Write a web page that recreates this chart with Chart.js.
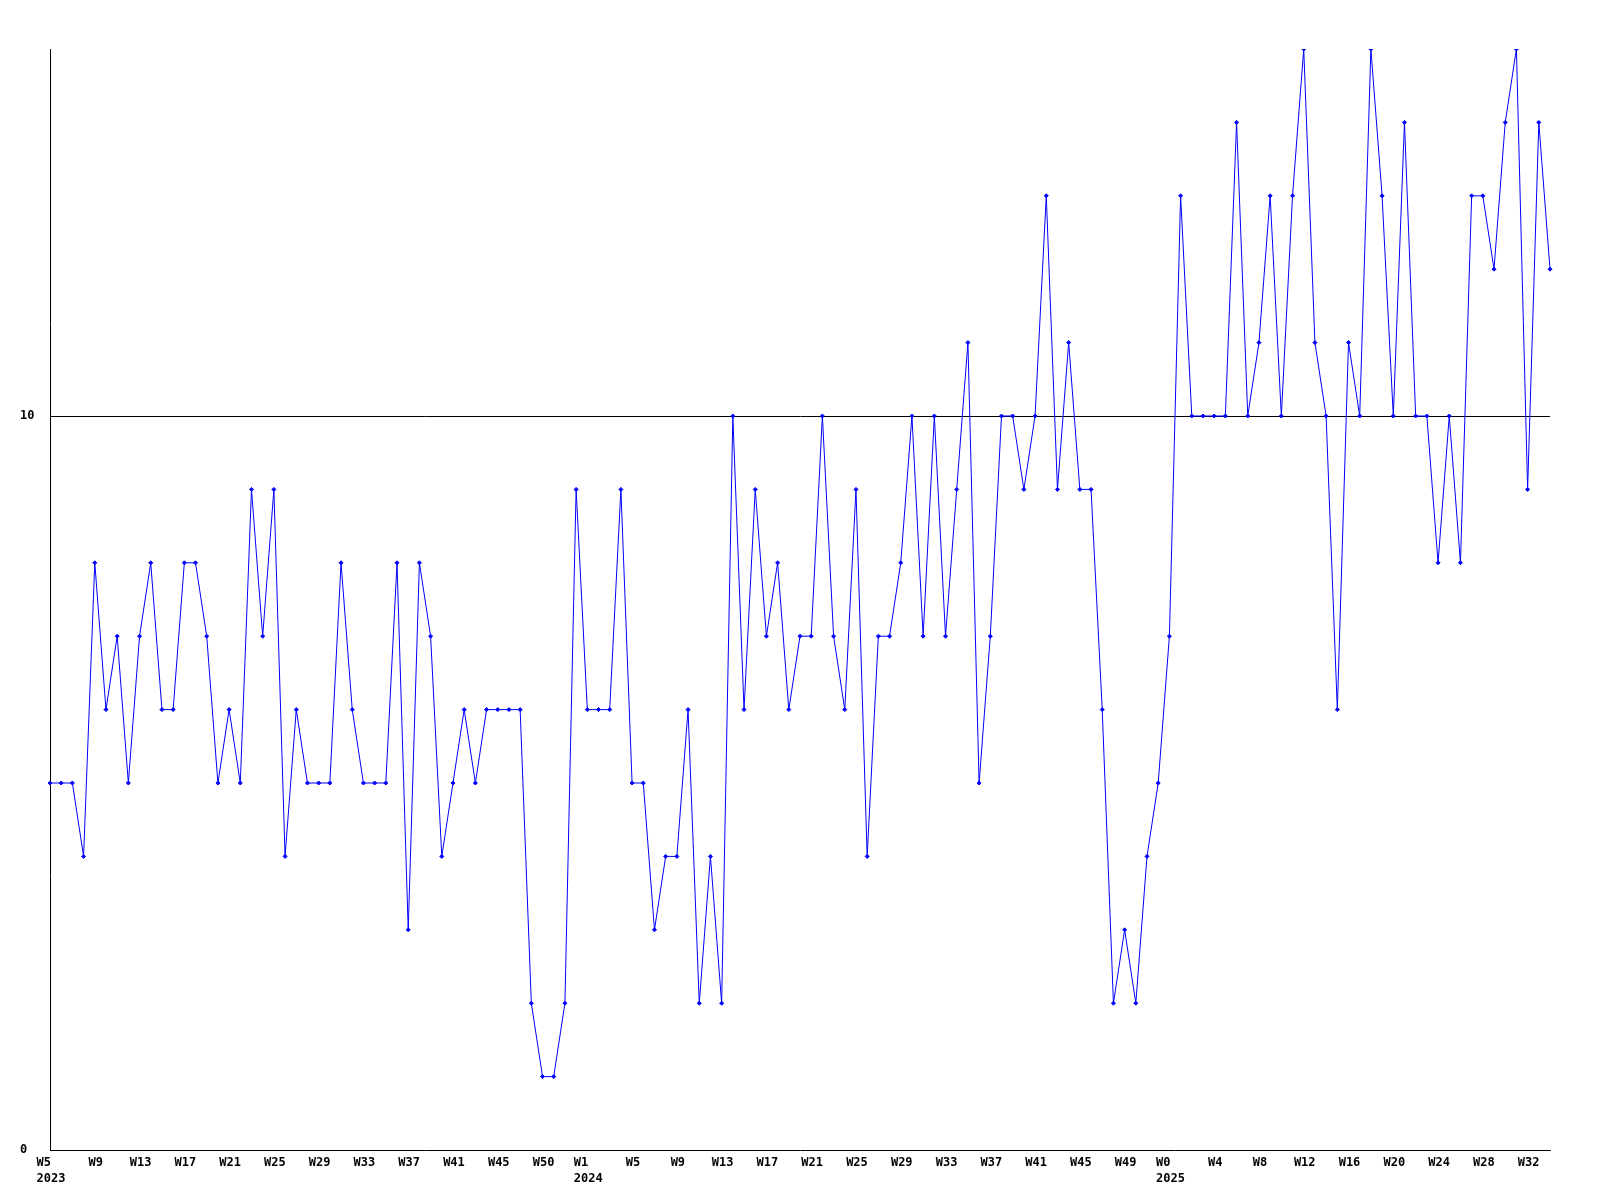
<!DOCTYPE html>
<html>
<head>
<meta charset="utf-8">
<script src="https://cdn.jsdelivr.net/npm/chart.js@4.4.1/dist/chart.umd.min.js"></script>
<style>
  html, body { margin: 0; padding: 0; background: #fff; }
  canvas { display: block; }
</style>
</head>
<body>
<canvas id="weekChart" width="1600" height="1200"></canvas>
<script>
// one label every 4 weeks, as printed under the axis
const tickLabels = [
  "W5", "W9", "W13", "W17", "W21", "W25", "W29", "W33", "W37", "W41", "W45", "W50",
  "W1", "W5", "W9", "W13", "W17", "W21", "W25", "W29", "W33", "W37", "W41", "W45", "W49",
  "W0", "W4", "W8", "W12", "W16", "W20", "W24", "W28", "W32"
];
// year shown under the first tick label of each year (index into tickLabels)
const yearAt = { 0: "2023", 12: "2024", 25: "2025" };
const tickEvery = 4;

const weeklyValues = [
  5, 5, 5, 4, 8, 6, 7, 5, 7, 8, 6, 6, 8, 8, 7, 5, 6, 5, 9, 7,
  9, 4, 6, 5, 5, 5, 8, 6, 5, 5, 5, 8, 3, 8, 7, 4, 5, 6, 5, 6,
  6, 6, 6, 2, 1, 1, 2, 9, 6, 6, 6, 9, 5, 5, 3, 4, 4, 6, 2, 4,
  2, 10, 6, 9, 7, 8, 6, 7, 7, 10, 7, 6, 9, 4, 7, 7, 8, 10, 7, 10,
  7, 9, 11, 5, 7, 10, 10, 9, 10, 13, 9, 11, 9, 9, 6, 2, 3, 2, 4, 5,
  7, 13, 10, 10, 10, 10, 14, 10, 11, 13, 10, 13, 15, 11, 10, 6, 11, 10, 15, 13,
  10, 14, 10, 10, 8, 10, 8, 13, 13, 12, 14, 15, 9, 14, 12
];
const yTicks = [0, 10];
const yMax = 15;

const labels = weeklyValues.map((v, i) => {
  if (i % tickEvery !== 0) return "";
  const k = i / tickEvery;
  const w = tickLabels[k];
  if (w === undefined) return "";
  const y = yearAt[k];
  // pad week so both lines start at the same x (monospace font)
  return y ? [w.padEnd(y.length, " "), y] : w;
});

Chart.defaults.font.family = "'DejaVu Sans Mono', monospace";
Chart.defaults.font.size = 12;
Chart.defaults.font.weight = "bold";
Chart.defaults.color = "#000";

new Chart(document.getElementById("weekChart"), {
  type: "line",
  data: {
    labels,
    datasets: [{
      data: weeklyValues,
      borderColor: "#0000ff",
      backgroundColor: "#0000ff",
      borderWidth: 1,
      tension: 0,
      fill: false,
      pointStyle: "rectRot",
      pointRadius: 2,
      pointBorderWidth: 1,
      pointBorderColor: "#0000ff",
      pointBackgroundColor: "#0000ff"
    }]
  },
  options: {
    responsive: false,
    animation: false,
    layout: { padding: { top: 49, right: 50, bottom: 0, left: 20 } },
    plugins: {
      legend: { display: false },
      tooltip: { enabled: false }
    },
    scales: {
      x: {
        type: "category",
        offset: false,
        grid: { display: true, color: "transparent", drawTicks: false },
        border: { display: true, color: "#000", width: 1 },
        ticks: {
          autoSkip: false,
          maxRotation: 0,
          minRotation: 0,
          padding: 5,
          labelOffset: 1,
          font: { lineHeight: "16px" }
        },
        afterFit: axis => { axis.height = 50; }
      },
      y: {
        min: 0,
        max: yMax,
        afterBuildTicks: axis => { axis.ticks = yTicks.map(v => ({ value: v })); },
        grid: {
          drawTicks: false,
          lineWidth: 1,
          color: ctx => (ctx.tick && ctx.tick.value === 10 ? "#000" : "transparent")
        },
        border: { display: true, color: "#000", width: 1 },
        ticks: { crossAlign: "far", padding: 0 },
        afterFit: axis => { axis.width = 30; }
      }
    }
  }
});
</script>
</body>
</html>
